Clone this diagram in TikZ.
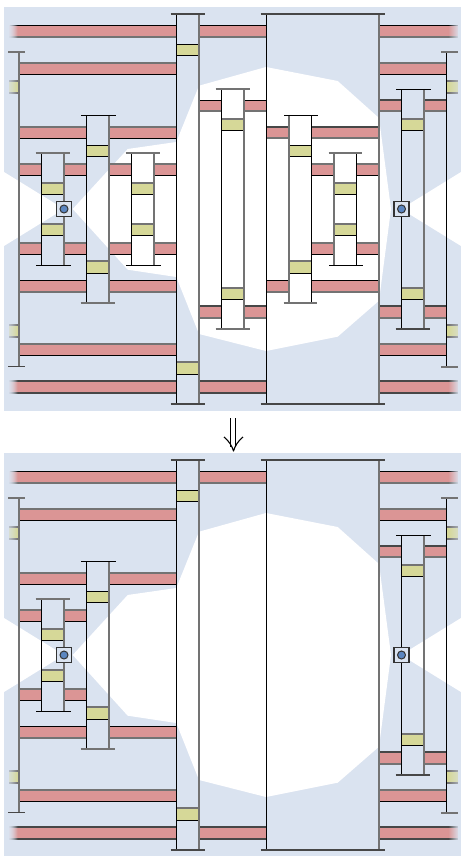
\documentclass[tikz,border=0pt]{standalone}
\definecolor{bgblue}{HTML}{DAE3F0}
\definecolor{barred}{HTML}{DB9595}
\definecolor{baryel}{HTML}{D6D898}
\definecolor{pinblue}{HTML}{5B86C0}
\tikzset{
  k/.style={draw=black,line width=1.2pt,shift={(0.5,0.5)}},
  g/.style={draw=black!55,line width=2pt},
  m/.style={draw=black!72,line width=1.6pt},
  redfill/.style={fill=barred},
  yelfill/.style={fill=baryel},
  panel/.style={fill=bgblue},
  hole/.style={fill=white},
  pivotbox/.style={fill=bgblue,draw=black!80,line width=1.2pt},
  pivotpin/.style={fill=pinblue,draw=black!80,line width=1pt}
}
% horizontal strip: fill x1 x2 y1 y2 top-edge bottom-edge
\newcommand{\strp}[7]{\path[#1] (#2,#4) rectangle (#3,#5);
  \draw[#6] (#2,#4) -- (#3,#4); \draw[#7] (#2,#5) -- (#3,#5);}
\newcommand{\hb}[6]{\strp{redfill}{#1}{#2}{#3}{#4}{#5}{#6}}
\newcommand{\yb}[6]{\strp{yelfill}{#1}{#2}{#3}{#4}{#5}{#6}}
% fade an outer end: strong for red bars, weak for yellow blocks
\newcommand{\fadeL}[3]{\foreach \i in {0,...,8}{\fill[bgblue,opacity={0.8-\i*0.09}] ({#1+\i-0.6},{#2-2}) rectangle ({#1+\i+1},{#3+2});}}
\newcommand{\fadeR}[3]{\foreach \i in {0,...,8}{\fill[bgblue,opacity={0.8-\i*0.09}] ({#1-\i+0.6},{#2-2}) rectangle ({#1-\i-1},{#3+2});}}
\newcommand{\softL}[3]{\foreach \i in {0,...,8}{\fill[bgblue,opacity={0.45-\i*0.05}] ({#1+\i-0.6},{#2-2}) rectangle ({#1+\i+1},{#3+2});}}
\newcommand{\softR}[3]{\foreach \i in {0,...,8}{\fill[bgblue,opacity={0.45-\i*0.05}] ({#1-\i+0.6},{#2-2}) rectangle ({#1-\i-1},{#3+2});}}
% shaft: xl xr yt yb left right captop capbot
\newcommand{\shaft}[8]{\draw[#5] (#1,#3) -- (#1,#4); \draw[#6] (#2,#3) -- (#2,#4);
  \draw[#7] ({#1-5.5},#3) -- ({#2+6},#3); \draw[#8] ({#1-5.5},#4) -- ({#2+6},#4);}
\newcommand{\pivot}[2]{\path[pivotbox,draw] ({#1-7.5},{#2-7.5}) rectangle ({#1+7.5},{#2+7.5});
  \path[pivotpin,draw] (#1,#2) circle (4);}
% parts shared by both panels
\newcommand{\commonbars}{
  \hb{9}{176}{25}{37}{k}{g} \fadeL{9}{25}{37}
  \hb{199}{266}{25}{37}{k}{g}
  \hb{379}{457.5}{25}{37}{k}{g} \fadeR{457.5}{25}{37}
  \hb{19}{176}{63}{74}{g}{k}
  \hb{379}{446}{63}{74}{g}{k}
  \hb{19}{86}{127}{138}{g}{k}
  \hb{109}{176}{127}{138}{g}{k}
  \hb{19}{41}{164}{175}{g}{k}
  \hb{64}{86}{164}{175}{g}{k}
  \hb{19}{41}{243}{254}{g}{k}
  \hb{64}{86}{243}{254}{g}{k}
  \hb{19}{86}{280}{292}{k}{g}
  \hb{109}{176}{280}{292}{k}{g}
  \hb{19}{176}{344}{355}{g}{k}
  \hb{379}{446}{344}{355}{g}{k}
  \hb{9}{176}{381}{393}{m}{m} \fadeL{9}{381}{393}
  \hb{199}{266}{381}{393}{m}{m}
  \hb{379}{457.5}{381}{393}{m}{m} \fadeR{457.5}{381}{393}
  \hb{379}{401}{100}{111}{m}{g}
  \hb{424}{446}{100}{111}{m}{g}
  \hb{379}{401}{306}{318}{m}{g}
  \hb{424}{446}{306}{318}{m}{g}
  \yb{9}{19}{81}{93}{g}{g} \softL{9}{81}{93}
  \yb{9}{19}{325}{337}{g}{g} \softL{9}{325}{337}
  \yb{446}{457.5}{81}{93}{g}{g} \softR{457.5}{81}{93}
  \yb{446}{457.5}{325}{337}{g}{g} \softR{457.5}{325}{337}
  \yb{176}{199}{44}{55}{k}{k}
  \yb{176}{199}{362}{374}{g}{k}
  \yb{86}{109}{145}{156}{k}{k}
  \yb{86}{109}{261}{273}{g}{k}
  \yb{41}{64}{183}{194}{g}{k}
  \yb{41}{64}{224}{235}{g}{k}
  \yb{401}{424}{119}{130}{g}{k}
  \yb{401}{424}{288}{299}{g}{k}
}
\newcommand{\commonshafts}{
  \draw[g] (19,52) -- (19,366);
  \draw[g] (8,52) -- (25,52);
  \draw[m] (8,366.5) -- (25,366.5);
  \draw[k] (446,52) -- (446,366);
  \draw[g] (441,52) -- (457.5,52);
  \draw[g] (441,366.5) -- (457.5,366.5);
  \shaft{41}{64}{153}{265}{k}{g}{g}{k}
  \shaft{86}{109}{115}{303}{k}{g}{k}{g}
  \shaft{176}{199}{14}{404}{k}{g}{m}{m}
  \shaft{266}{379}{14}{404}{k}{g}{m}{m}
  \shaft{401}{424}{89}{329}{k}{g}{k}{m}
  \pivot{64}{209}
  \pivot{401.5}{209}
}
\newcommand{\background}{
  \path[panel] (4,7) rectangle (461,411);
  \path[hole] (4,172) -- (64,209) -- (4,246) -- cycle;
  \path[hole] (461,172) -- (401,209) -- (461,246) -- cycle;
  \path[hole] (72.7,209) -- (127.7,149) -- (176.3,142) -- (199,85.7) -- (266,67)
    -- (337.7,81) -- (379,118) -- (391,209) -- (379,300.7) -- (337.7,336.7)
    -- (266,351) -- (199,334) -- (176.3,277) -- (127.7,269.7) -- cycle;
}
\begin{document}
\begin{tikzpicture}[x=1pt,y=-1pt]
\useasboundingbox (0,0) rectangle (461,856);
% upper panel
\background
\commonbars
\hb{109}{131}{164}{175}{g}{k}
\hb{154}{176}{164}{175}{g}{k}
\hb{109}{131}{243}{254}{g}{k}
\hb{154}{176}{243}{254}{g}{k}
\hb{199}{221}{100}{111}{k}{g}
\hb{244}{266}{100}{111}{k}{g}
\hb{199}{221}{306}{318}{m}{g}
\hb{244}{266}{306}{318}{m}{g}
\hb{266}{289}{127}{138}{m}{g}
\hb{311}{379}{127}{138}{m}{g}
\hb{266}{289}{280}{292}{k}{g}
\hb{311}{379}{280}{292}{k}{g}
\hb{311}{334}{164}{175}{g}{k}
\hb{356}{379}{164}{175}{g}{k}
\hb{311}{334}{243}{254}{g}{k}
\hb{356}{379}{243}{254}{g}{k}
\yb{131}{154}{183}{194}{g}{k}
\yb{131}{154}{224}{235}{g}{k}
\yb{221}{244}{119}{130}{g}{k}
\yb{221}{244}{288}{299}{g}{k}
\yb{289}{311}{145}{156}{k}{k}
\yb{289}{311}{261}{273}{g}{k}
\yb{334}{356}{183}{194}{g}{k}
\yb{334}{356}{224}{235}{g}{k}
\commonshafts
\shaft{131}{154}{153}{265}{k}{g}{g}{k}
\shaft{221}{244}{89}{329}{k}{g}{g}{g}
\shaft{289}{311}{115}{303}{g}{k}{k}{g}
\shaft{334}{356}{153}{265}{g}{k}{g}{k}
% arrow between the panels
\coordinate (arrowtip) at (233.5,451);
\draw[line width=1.1pt] (230.5,418) -- (230.5,447);
\draw[line width=1.1pt] (235.5,418) -- (235.5,447);
\draw[line width=1.1pt,line join=round] (224,437) .. controls (229,441) and (232,446) .. (arrowtip) .. controls (235,446) and (238,441) .. (243,437);
% lower panel
\begin{scope}[yshift=-446pt]
\background
\commonbars
\commonshafts
\end{scope}
\end{tikzpicture}
\end{document}
